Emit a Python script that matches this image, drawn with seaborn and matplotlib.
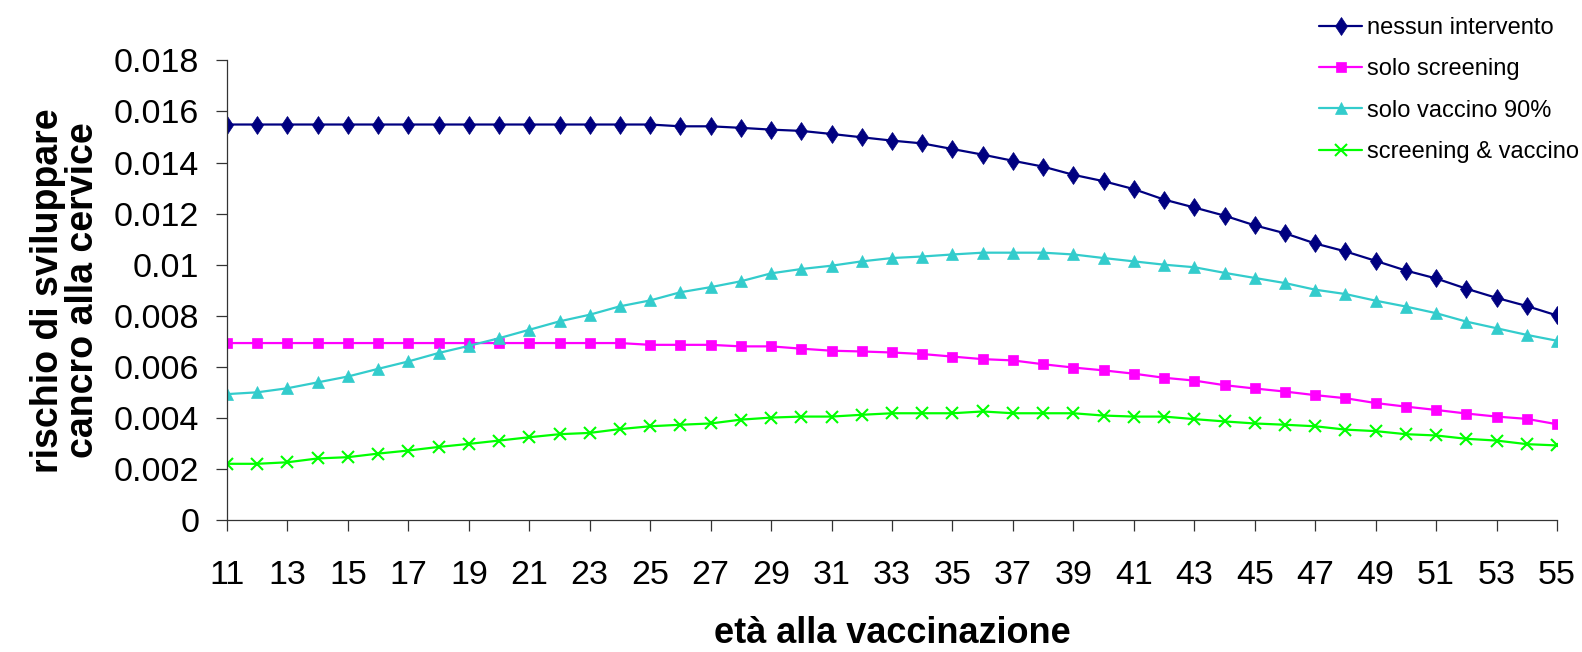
import matplotlib
matplotlib.use("Agg")
import matplotlib.pyplot as plt
import seaborn as sns
import pandas as pd

# età alla vaccinazione (11..55)
eta = list(range(11, 56))

nessun_intervento = [
    0.01549, 0.01549, 0.01549, 0.01549, 0.01549, 0.01549, 0.01549, 0.01549,
    0.01549, 0.01549, 0.01549, 0.01549, 0.01549, 0.01549, 0.01549, 0.01542,
    0.01542, 0.01536, 0.01529, 0.01524, 0.01512, 0.01499, 0.01486, 0.01475,
    0.01453, 0.01431, 0.01407, 0.01384, 0.01352, 0.01327, 0.01296, 0.01255,
    0.01224, 0.01192, 0.01154, 0.01123, 0.01083, 0.01052, 0.01015, 0.00977,
    0.00946, 0.00906, 0.00870, 0.00838, 0.00801,
]
solo_screening = [
    0.00693, 0.00693, 0.00693, 0.00693, 0.00693, 0.00693, 0.00693, 0.00693,
    0.00693, 0.00693, 0.00693, 0.00693, 0.00693, 0.00693, 0.00686, 0.00686,
    0.00686, 0.00680, 0.00680, 0.00671, 0.00663, 0.00660, 0.00656, 0.00650,
    0.00640, 0.00630, 0.00625, 0.00610, 0.00597, 0.00586, 0.00573, 0.00557,
    0.00546, 0.00528, 0.00515, 0.00503, 0.00489, 0.00477, 0.00458, 0.00444,
    0.00431, 0.00417, 0.00405, 0.00396, 0.00375,
]
solo_vaccino = [
    0.00493, 0.00500, 0.00516, 0.00539, 0.00562, 0.00592, 0.00621, 0.00654,
    0.00682, 0.00712, 0.00745, 0.00778, 0.00804, 0.00837, 0.00860, 0.00892,
    0.00912, 0.00935, 0.00966, 0.00983, 0.00996, 0.01013, 0.01026, 0.01032,
    0.01040, 0.01047, 0.01047, 0.01047, 0.01040, 0.01026, 0.01013, 0.01000,
    0.00990, 0.00968, 0.00948, 0.00928, 0.00902, 0.00885, 0.00859, 0.00836,
    0.00810, 0.00777, 0.00751, 0.00725, 0.00702,
]
screening_vaccino = [
    0.00220, 0.00220, 0.00226, 0.00241, 0.00246, 0.00260, 0.00272, 0.00286,
    0.00298, 0.00311, 0.00324, 0.00336, 0.00341, 0.00356, 0.00367, 0.00373,
    0.00378, 0.00393, 0.00401, 0.00405, 0.00405, 0.00412, 0.00418, 0.00418,
    0.00418, 0.00425, 0.00418, 0.00418, 0.00418, 0.00409, 0.00405, 0.00405,
    0.00395, 0.00386, 0.00378, 0.00373, 0.00367, 0.00354, 0.00348, 0.00336,
    0.00331, 0.00318, 0.00311, 0.00297, 0.00292,
]

serie = ["nessun intervento", "solo screening", "solo vaccino 90%", "screening & vaccino"]
valori = [nessun_intervento, solo_screening, solo_vaccino, screening_vaccino]
colori = ["#000080", "#FF00FF", "#33CCCC", "#00FF00"]
marcatori = ["d", "s", "^", "x"]
dim_marcatori = [9.5, 7, 8.5, 8]

yticks = [0, 0.002, 0.004, 0.006, 0.008, 0.01, 0.012, 0.014, 0.016, 0.018]
ytick_labels = ["0", "0.002", "0.004", "0.006", "0.008", "0.01", "0.012", "0.014", "0.016", "0.018"]
xticks = list(range(11, 56, 2))

df = pd.DataFrame({"eta": eta})
for nome, v in zip(serie, valori):
    df[nome] = v

sns.set_theme(style="white")
plt.rcParams["font.family"] = ["Liberation Sans", "DejaVu Sans"]
plt.rcParams["text.color"] = "black"
plt.rcParams["axes.labelcolor"] = "black"
plt.rcParams["xtick.color"] = "black"
plt.rcParams["ytick.color"] = "black"

fig = plt.figure(figsize=(15.82, 6.52), dpi=100)
ax = fig.add_axes([0.1435, 0.2025, 0.8407, 0.7048])

for nome, col, m, ms in zip(serie, colori, marcatori, dim_marcatori):
    sns.lineplot(data=df, x="eta", y=nome, ax=ax, color=col, marker=m,
                 markersize=ms, markeredgecolor=col, markerfacecolor=col,
                 markeredgewidth=1.5 if m == "x" else 0.5, linewidth=1.6,
                 label=nome, legend=False)

ax.set_xlim(11, 55)
ax.set_ylim(0, 0.018)
ax.set_yticks(yticks)
ax.set_yticklabels(ytick_labels)
ax.set_xticks(xticks)
ax.tick_params(axis="both", which="major", labelsize=24.5, length=8, width=0.9,
               direction="out", color="#333333", labelcolor="black",
               left=True, bottom=True)
ax.tick_params(axis="y", pad=12)
ax.tick_params(axis="x", pad=21)

for s in ["top", "right"]:
    ax.spines[s].set_visible(False)
for s in ["left", "bottom"]:
    ax.spines[s].set_color("#333333")
    ax.spines[s].set_linewidth(0.9)

ax.set_xlabel("età alla vaccinazione", fontsize=26, fontweight="bold")
ax.set_ylabel("rischio di sviluppare\ncancro alla cervice", fontsize=27,
              fontweight="bold", linespacing=0.95)
ax.xaxis.set_label_coords(0.5, -0.21)
ax.yaxis.set_label_coords(-0.095, 0.5)

handles, labels = ax.get_legend_handles_labels()
fig.legend(handles, labels, loc="upper left", bbox_to_anchor=(0.8338, 0.974),
           frameon=False, fontsize=17, handlelength=1.82, handletextpad=0.21,
           labelspacing=0.82, borderpad=0, borderaxespad=0)

fig.savefig("out.png", dpi=100)
